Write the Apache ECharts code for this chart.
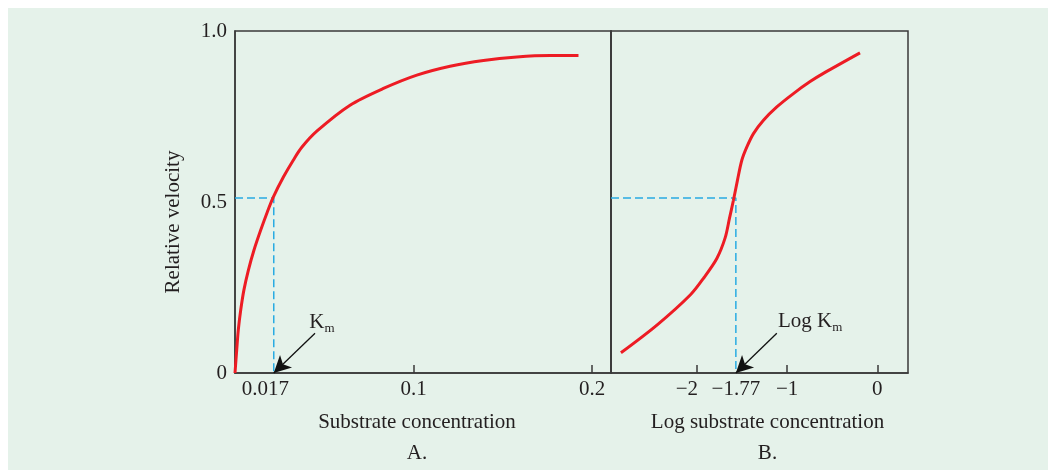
<!DOCTYPE html>
<html>
<head>
<meta charset="utf-8">
<script src="https://cdn.jsdelivr.net/npm/echarts@6/dist/echarts.min.js"></script>
<style>
  html, body { margin: 0; padding: 0; background: #fff; }
  #chart {
    width: 1048px; height: 470px;
    background: linear-gradient(#e5f2ea, #e5f2ea) no-repeat 8px 8px / 1040px 462px, #fff;
  }
</style>
</head>
<body>
<div id="chart"></div>
<script>
// panel A: substrate concentration vs relative velocity
const concA = [0, 0.00095, 0.00185, 0.0032, 0.0050, 0.0075, 0.0106, 0.0144, 0.0181, 0.0215, 0.0271, 0.0327, 0.0374, 0.0458, 0.0644, 0.0831, 0.1018, 0.1204, 0.1391, 0.1578, 0.1765, 0.1923]
const velA = [0, 0.067, 0.126, 0.184, 0.243, 0.301, 0.359, 0.418, 0.471, 0.515, 0.573, 0.623, 0.660, 0.707, 0.783, 0.832, 0.871, 0.897, 0.914, 0.924, 0.928, 0.928]
// panel B: log substrate concentration vs relative velocity
const logConcB = [-2.842, -2.443, -2.074, -1.927, -1.779, -1.687, -1.639, -1.595, -1.550, -1.502, -1.446, -1.373, -1.262, -1.114, -0.930, -0.745, -0.598, -0.192]
const velB = [0.059, 0.140, 0.228, 0.277, 0.335, 0.395, 0.452, 0.505, 0.564, 0.622, 0.661, 0.700, 0.739, 0.778, 0.817, 0.852, 0.876, 0.936]

const halfVel = 0.512     // level of the dashed guide, as drawn
const kmA = 0.0217        // where the dashed line meets the axis in A
const kmB = -1.568        // where the dashed line meets the axis in B
const xTicksA = [0.1, 0.2]
const xLabelsA = [0.017, 0.1, 0.2]
const xTicksB = [-2, -1, 0]
const yTicks = [0, 0.5, 1]
// arrow tails and label anchors (data units)
const arrowFromA = [0.0448, 0.116]
const labelAtA = [0.0487, 0.149]
const arrowFromB = [-1.114, 0.116]
const labelAtB = [-0.745, 0.152]

const FONT = '"Liberation Serif", "DejaVu Serif", serif'
const INK = '#231f20'
const AXIS = '#3a3a3a'
const RED = '#ed1c24'
const CYAN = '#29abe2'

const zip = (xs, ys) => xs.map((x, i) => [x, ys[i]])

const chart = echarts.init(document.getElementById('chart'))

const textBase = { fontFamily: FONT, color: INK, fontSize: 21 }

const kmRich = {
    b: { fontFamily: FONT, color: INK, fontSize: 21, textBorderWidth: 0, textBorderColor: 'transparent' },
    s: { fontFamily: FONT, color: INK, fontSize: 13, textBorderWidth: 0, textBorderColor: 'transparent', padding: [14, 0, 0, 0] }
}

const arrowLine = (from, to) => ({
    silent: true,
    symbol: ['none', 'arrow'],
    symbolSize: [13, 17],
    lineStyle: { color: '#111', width: 1.3, type: 'solid' },
    itemStyle: { color: '#111' },
    label: { show: false },
    data: [[{ coord: from }, { coord: to }]]
})

const noteLabel = {
    show: true, position: 'inside', color: INK,
    textBorderWidth: 0, textBorderColor: 'transparent', opacity: 1,
    rich: kmRich
}

const option = {
    animation: false,
    backgroundColor: 'transparent',
    grid: [
        { left: 235, right: 437, top: 31, bottom: 97, show: true, borderColor: AXIS, borderWidth: 1.5, outerBoundsMode: 'none' },
        { left: 611, right: 140, top: 31, bottom: 97, show: true, borderColor: AXIS, borderWidth: 1.5, outerBoundsMode: 'none' }
    ],
    xAxis: [
        {
            gridIndex: 0, type: 'value', min: 0, max: 0.2105,
            axisLine: { show: true, onZero: false, lineStyle: { color: AXIS, width: 1.5 } },
            axisTick: { show: true, inside: true, length: 8, customValues: xTicksA, lineStyle: { color: AXIS, width: 1.5 } },
            axisLabel: {
                ...textBase, margin: 6, customValues: xLabelsA,
                formatter: v => String(v)
            },
            splitLine: { show: false },
            name: 'Substrate concentration\nA.',
            nameLocation: 'middle', nameGap: 34,
            nameTextStyle: { ...textBase, lineHeight: 31, padding: [0, 12, 0, 0] }
        },
        {
            gridIndex: 1, type: 'value', min: -2.952, max: 0.34,
            axisLine: { show: true, onZero: false, lineStyle: { color: AXIS, width: 1.5 } },
            axisTick: { show: true, inside: true, length: 8, customValues: xTicksB, lineStyle: { color: AXIS, width: 1.5 } },
            axisLabel: {
                ...textBase, margin: 6, customValues: xTicksB,
                formatter: v => v === -2 ? '{l|\u22122}' : (v < 0 ? '\u2212' + Math.abs(v) : String(v)),
                rich: { l: { ...textBase, padding: [0, 20, 0, 0] } }
            },
            splitLine: { show: false },
            name: 'Log substrate concentration\nB.',
            nameLocation: 'middle', nameGap: 34,
            nameTextStyle: { ...textBase, lineHeight: 31, padding: [0, 0, 0, 16] }
        }
    ],
    yAxis: [
        {
            gridIndex: 0, type: 'value', min: 0, max: 1,
            axisLine: { show: true, onZero: false, lineStyle: { color: AXIS, width: 1.5 } },
            axisTick: { show: false },
            axisLabel: {
                ...textBase, margin: 8, customValues: yTicks,
                formatter: v => v === 0 ? '0' : v.toFixed(1)
            },
            splitLine: { show: false },
            name: 'Relative velocity',
            nameLocation: 'middle', nameGap: 51, nameRotate: 90,
            nameTextStyle: { ...textBase, padding: [0, 40, 0, 0] }
        },
        {
            gridIndex: 1, type: 'value', min: 0, max: 1,
            axisLine: { show: true, onZero: false, lineStyle: { color: AXIS, width: 1.5 } },
            axisTick: { show: false },
            axisLabel: { show: false },
            splitLine: { show: false }
        }
    ],
    series: [
        {
            name: 'kmA-dash', type: 'line', xAxisIndex: 0, yAxisIndex: 0,
            data: [[0, halfVel], [kmA, halfVel], [kmA, 0]],
            showSymbol: false, silent: true,
            lineStyle: { color: CYAN, width: 1.5, type: [8, 4] },
            markLine: arrowLine(arrowFromA, [kmA, 0])
        },
        {
            name: 'kmB-dash', type: 'line', xAxisIndex: 1, yAxisIndex: 1,
            data: [[-2.952, halfVel], [kmB, halfVel], [kmB, 0]],
            showSymbol: false, silent: true,
            lineStyle: { color: CYAN, width: 1.5, type: [8, 4] },
            markLine: arrowLine(arrowFromB, [kmB, 0])
        },
        {
            name: 'A', type: 'line', xAxisIndex: 0, yAxisIndex: 0,
            data: zip(concA, velA),
            smooth: 0.3, showSymbol: false, silent: true,
            lineStyle: { color: RED, width: 3 }
        },
        {
            name: 'B', type: 'line', xAxisIndex: 1, yAxisIndex: 1,
            data: zip(logConcB, velB),
            smooth: 0.3, showSymbol: false, silent: true,
            lineStyle: { color: RED, width: 3 }
        },
        {
            // text annotations
            name: 'labelsA', type: 'scatter', xAxisIndex: 0, yAxisIndex: 0,
            symbolSize: 0, silent: true,
            itemStyle: { color: INK, opacity: 1 },
            data: [labelAtA],
            label: { ...noteLabel, formatter: '{b|K}{s|m}' }
        },
        {
            name: 'labelsB', type: 'scatter', xAxisIndex: 1, yAxisIndex: 1,
            symbolSize: 0, silent: true,
            itemStyle: { color: INK, opacity: 1 },
            data: [labelAtB, [kmB, 0]],
            label: {
                ...noteLabel,
                formatter: p => p.dataIndex === 0 ? '{b|Log K}{s|m}' : '{b|\u22121.77}'
            },
            labelLayout: p => p.dataIndex === 1 ? { dy: 16 } : {}
        }
    ]
}

chart.setOption(option)
</script>
</body>
</html>
